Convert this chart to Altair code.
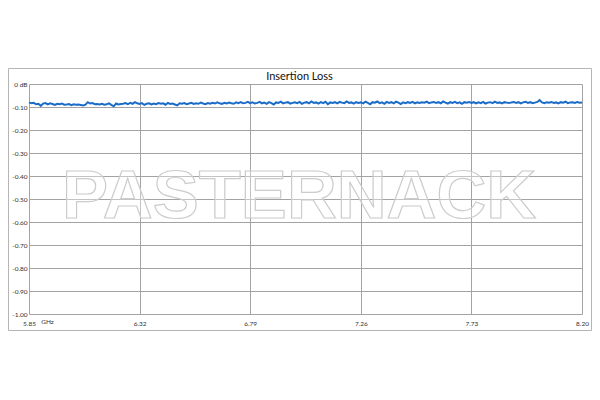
import altair as alt
import pandas as pd

# Insertion loss (dB), 0.01 GHz steps, 5.85 -> 8.20 GHz
loss_a = [-0.080, -0.084, -0.082, -0.088, -0.086, -0.095, -0.085, -0.083, -0.089, -0.084,
          -0.087, -0.091, -0.086, -0.088, -0.085, -0.090, -0.089, -0.087, -0.092, -0.088,
          -0.090, -0.089, -0.091, -0.093, -0.090, -0.079, -0.085, -0.083, -0.088, -0.087,
          -0.089, -0.086, -0.090, -0.088, -0.084, -0.091, -0.097, -0.085, -0.089, -0.087,
          -0.086, -0.083, -0.088, -0.082, -0.086, -0.079, -0.084]
loss_b = [-0.087, -0.083, -0.091, -0.086, -0.084, -0.089, -0.085, -0.088, -0.083, -0.086,
          -0.084, -0.090, -0.082, -0.087, -0.085, -0.089, -0.093, -0.084, -0.086, -0.083,
          -0.088, -0.085, -0.082, -0.087, -0.084, -0.086, -0.081, -0.085, -0.088, -0.083,
          -0.086, -0.082, -0.085, -0.080, -0.084, -0.087, -0.082, -0.085, -0.081, -0.084,
          -0.086, -0.080, -0.083, -0.079, -0.084, -0.082, -0.078]
loss_c = [-0.083, -0.080, -0.085, -0.082, -0.078, -0.084, -0.081, -0.086, -0.079, -0.083,
          -0.089, -0.080, -0.082, -0.077, -0.084, -0.081, -0.079, -0.085, -0.082, -0.080,
          -0.083, -0.078, -0.086, -0.081, -0.079, -0.084, -0.076, -0.082, -0.080, -0.085,
          -0.079, -0.083, -0.077, -0.088, -0.080, -0.082, -0.079, -0.084, -0.078, -0.081,
          -0.083, -0.076, -0.082, -0.080, -0.085, -0.079, -0.082]
loss_d = [-0.080, -0.084, -0.077, -0.082, -0.088, -0.079, -0.081, -0.076, -0.083, -0.080,
          -0.086, -0.078, -0.082, -0.079, -0.084, -0.077, -0.081, -0.087, -0.080, -0.083,
          -0.079, -0.082, -0.078, -0.084, -0.080, -0.082, -0.079, -0.081, -0.077, -0.083,
          -0.080, -0.078, -0.082, -0.079, -0.084, -0.076, -0.081, -0.085, -0.079, -0.082,
          -0.078, -0.083, -0.080, -0.086, -0.079, -0.081, -0.078]
loss_e = [-0.082, -0.079, -0.084, -0.080, -0.083, -0.078, -0.085, -0.081, -0.079, -0.083,
          -0.077, -0.082, -0.080, -0.084, -0.079, -0.081, -0.083, -0.080, -0.078, -0.082,
          -0.079, -0.084, -0.080, -0.077, -0.082, -0.079, -0.083, -0.081, -0.078, -0.070,
          -0.080, -0.083, -0.079, -0.081, -0.078, -0.082, -0.080, -0.084, -0.079, -0.081,
          -0.077, -0.083, -0.080, -0.079, -0.082, -0.078, -0.081, -0.080]

x_ticks = [5.85, 6.32, 6.79, 7.26, 7.73, 8.20]
y_ticks = [0.0, -0.1, -0.2, -0.3, -0.4, -0.5, -0.6, -0.7, -0.8, -0.9, -1.0]
title_text = "Insertion Loss"
unit_text = "GHz"
watermark = "PASTERNACK"

loss = loss_a + loss_b + loss_c + loss_d + loss_e
freq = [round(5.85 + 0.01 * i, 2) for i in range(len(loss))]
df = pd.DataFrame({"freq": freq, "loss": loss})

W, H = 553, 230
font = "Lato"
lab_size = 6.5

border = alt.Chart(alt.Data(values=[{}])).mark_rect(
    fillOpacity=0, stroke="#b5b5b5", strokeWidth=1
).encode(x=alt.value(-20.5), x2=alt.value(562.5), y=alt.value(-15.5), y2=alt.value(246.5))

line = alt.Chart(df).mark_line(color="#1b6cc8", strokeWidth=2).encode(
    x=alt.X("freq:Q", scale=alt.Scale(domain=[5.85, 8.20], nice=False, zero=False),
            axis=alt.Axis(values=x_ticks, format=".2f", title=None, grid=True,
                          ticks=False, domain=False, labelPadding=6, labelFlush=False,
                          labelFontSize=lab_size, labelColor="#333333", labelFont=font,
                          gridColor="#a3a3a3", gridWidth=1)),
    y=alt.Y("loss:Q", scale=alt.Scale(domain=[-1.0, 0.0], nice=False, zero=False),
            axis=alt.Axis(values=y_ticks, title=None, grid=True, ticks=False,
                          domain=False, labelPadding=2, labelFontSize=lab_size,
                          labelColor="#333333", labelFont=font,
                          gridColor="#a3a3a3", gridWidth=1,
                          labelExpr="datum.value == 0 ? '0 dB' : '-' + format(abs(datum.value), '.2f')")),
)

wm = alt.Chart(alt.Data(values=[{}])).mark_text(
    text=watermark, font="Liberation Sans", fontSize=69, fontWeight="bold",
    fill="white", fillOpacity=0.35, stroke="#cccccc", strokeWidth=1.2,
    align="center", baseline="middle"
).encode(x=alt.value(270), y=alt.value(113))

title = alt.Chart(alt.Data(values=[{}])).mark_text(
    text=title_text, font=font, fontSize=11, color="#111111",
    align="center", baseline="middle"
).encode(x=alt.value(270.5), y=alt.value(-7))

unit = alt.Chart(alt.Data(values=[{}])).mark_text(
    text=unit_text, font=font, fontSize=lab_size, color="#333333",
    align="center", baseline="middle"
).encode(x=alt.value(18.5), y=alt.value(238))

chart = alt.layer(border, line, wm, title, unit).properties(
    width=W, height=H,
    autosize=alt.AutoSizeParams(type="none"),
    padding={"left": 21, "top": 76, "right": 10, "bottom": 78},
    background="white",
).configure_view(stroke=None)

chart.save("out.html", embed_options={"renderer": "svg", "actions": False})
